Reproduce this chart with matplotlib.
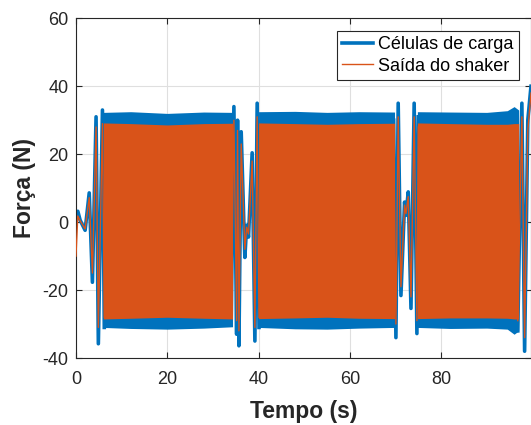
import matplotlib
matplotlib.use('Agg')
import matplotlib.pyplot as plt
from matplotlib.lines import Line2D

plt.rcParams['font.family'] = ['Liberation Sans', 'DejaVu Sans']
plt.rcParams['axes.unicode_minus'] = False

# Cores padrao do MATLAB
azul = '#0072BD'
laranja = '#D95319'

# Trechos de transicao (picos)
t_ini = [0.0, 0.4, 0.9, 2.0, 2.9, 3.6, 4.4, 4.9, 5.8, 6.2]
cel_ini = [2.7, 3.2, 0.6, -2.4, 8.6, -17.7, 31.0, -35.8, 33.0, -31.0]
sha_ini = [-10.0, 1.8, 0.4, -2.0, 7.2, -15.0, 28.0, -31.0, 29.0, -28.0]

t_meio1 = [34.0, 34.6, 35.2, 35.4, 35.7, 36.2, 37.0, 37.4, 37.8, 38.6, 39.2, 39.7, 40.1]
cel_meio1 = [-30.0, 34.0, -33.0, 30.0, -36.4, 26.6, -10.4, -0.9, -4.4, 20.4, -35.0, 35.0, -31.0]
sha_meio1 = [-28.0, 30.0, -29.0, 27.0, -32.0, 23.0, -8.0, -1.5, -3.5, 18.0, -31.0, 31.0, -28.0]

t_meio2 = [69.6, 70.1, 70.6, 71.2, 72.0, 72.3, 72.8, 73.4, 74.1, 74.7, 75.0]
cel_meio2 = [30.0, -34.0, 35.0, -21.6, 5.9, 2.0, 8.9, -25.4, 35.0, -32.8, 31.0]
sha_meio2 = [27.0, -30.0, 31.0, -19.0, 5.0, 2.5, 7.5, -22.0, 31.0, -29.0, 28.0]

t_fim = [96.8, 97.7, 98.3, 99.0, 99.7]
cel_fim = [-32.0, 35.0, -38.0, 30.0, 40.0]
sha_fim = [-29.0, 31.0, -34.0, 27.0, 38.0]

# Trechos densos (envoltoria superior/inferior)
t_denso1 = [6.0, 12.0, 20.0, 28.0, 34.3]
cel_sup1 = [32.3, 32.5, 32.0, 32.4, 32.3]
cel_inf1 = [-31.0, -31.3, -31.5, -31.2, -30.8]
sha_sup1 = [29.2, 29.0, 28.6, 29.0, 29.1]
sha_inf1 = [-28.5, -28.3, -28.0, -28.3, -28.5]

t_denso2 = [40.0, 48.0, 55.0, 62.0, 69.8]
cel_sup2 = [32.5, 32.6, 32.3, 32.5, 32.4]
cel_inf2 = [-31.0, -31.4, -31.5, -31.2, -31.0]
sha_sup2 = [29.2, 29.0, 28.8, 29.0, 29.1]
sha_inf2 = [-28.4, -28.2, -28.0, -28.3, -28.4]

t_denso3 = [74.8, 82.0, 90.0, 94.5, 96.0, 97.0]
cel_sup3 = [32.5, 32.4, 32.3, 32.8, 34.0, 33.0]
cel_inf3 = [-31.0, -31.3, -31.2, -31.5, -33.0, -32.0]
sha_sup3 = [29.2, 29.0, 28.8, 28.8, 29.0, 29.0]
sha_inf3 = [-28.4, -28.2, -28.2, -28.3, -28.5, -28.5]

fig = plt.figure(figsize=(5.31, 4.25), dpi=100)
ax = fig.add_axes([0.1431, 0.1576, 0.8569, 0.7994])

# Celulas de carga (azul, linha grossa)
for t, c in [(t_ini, cel_ini), (t_meio1, cel_meio1), (t_meio2, cel_meio2), (t_fim, cel_fim)]:
    ax.plot(t, c, color=azul, lw=2.6, zorder=2)
for t, s, i in [(t_denso1, cel_sup1, cel_inf1), (t_denso2, cel_sup2, cel_inf2), (t_denso3, cel_sup3, cel_inf3)]:
    ax.fill_between(t, i, s, color=azul, lw=0, zorder=2)

# Saida do shaker (laranja, linha fina)
for t, s_ in [(t_ini, sha_ini), (t_meio1, sha_meio1), (t_meio2, sha_meio2), (t_fim, sha_fim)]:
    ax.plot(t, s_, color=laranja, lw=1.0, zorder=3)
for t, s, i in [(t_denso1, sha_sup1, sha_inf1), (t_denso2, sha_sup2, sha_inf2), (t_denso3, sha_sup3, sha_inf3)]:
    ax.fill_between(t, i, s, color=laranja, lw=0, zorder=3)

ax.set_xlim(0, 99.7)
ax.set_ylim(-40, 60)
ax.set_xticks([0, 20, 40, 60, 80])
ax.set_yticks([-40, -20, 0, 20, 40, 60])
ax.grid(True, color='#DFDFDF', lw=0.8, zorder=0)
ax.set_axisbelow(True)
ax.tick_params(direction='in', top=True, right=True, labelsize=13, colors='#262626', length=4)
ax.tick_params(axis='x', pad=9)
ax.tick_params(axis='y', pad=5.5)
for sp in ax.spines.values():
    sp.set_color('#262626')
    sp.set_linewidth(0.8)

ax.set_xlabel('Tempo (s)', fontsize=16.5, fontweight='bold', color='#262626', labelpad=9)
ax.set_ylabel('Força (N)', fontsize=16.5, fontweight='bold', color='#262626', labelpad=4.5)

handles = [Line2D([], [], color=azul, lw=2.6), Line2D([], [], color=laranja, lw=1.0)]
leg = ax.legend(handles, ['Células de carga', 'Saída do shaker'], loc='upper right',
                bbox_to_anchor=(0.974, 0.963), fontsize=13, fancybox=False, framealpha=1,
                edgecolor='#262626', handlelength=1.7, borderaxespad=0, labelspacing=0.25,
                handletextpad=0.3, borderpad=0.3)
leg.get_frame().set_linewidth(0.8)

fig.savefig('out.png', dpi=100)
